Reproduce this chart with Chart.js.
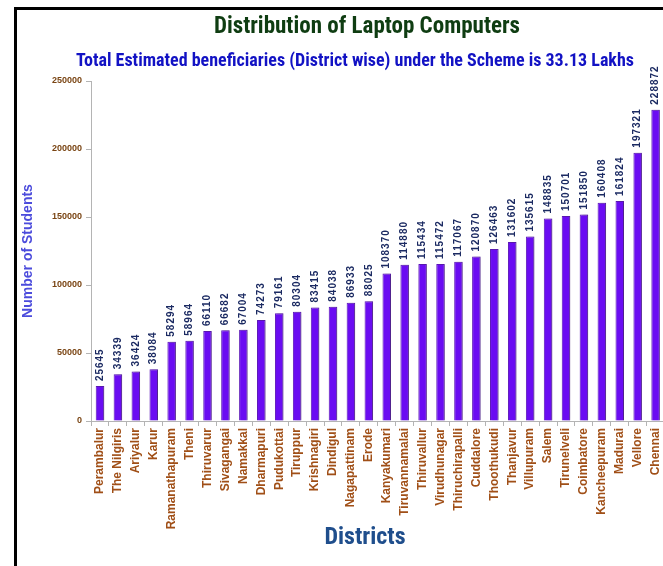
<!DOCTYPE html>
<html>
<head>
<meta charset="utf-8">
<script src="https://cdn.jsdelivr.net/npm/chart.js@4.4.1/dist/chart.umd.min.js"></script>
<style>
    html, body { margin: 0; padding: 0; background: #fff; overflow: hidden; }
    #wrap { position: relative; width: 663px; height: 566px; overflow: hidden; }
    #frame { position: absolute; left: 14px; top: 7px; width: 700px; height: 600px;
             border-left: 3px solid #000; border-top: 3px solid #000; }
    canvas { position: absolute; left: 0; top: 0; }
</style>
</head>
<body>
<div id="wrap">
    <div id="frame"></div>
    <canvas id="laptopChart" width="672" height="566"></canvas>
</div>
<script>
const districts = ['Perambalur', 'The Nilgiris', 'Ariyalur', 'Karur', 'Ramanathapuram', 'Theni',
    'Thiruvarur', 'Sivagangai', 'Namakkal', 'Dharmapuri', 'Pudukottai', 'Tiruppur', 'Krishnagiri',
    'Dindigul', 'Nagapattinam', 'Erode', 'Kanyakumari', 'Tiruvannamalai', 'Thiruvallur',
    'Virudhunagar', 'Thiruchirapalli', 'Cuddalore', 'Thoothukudi', 'Thanjavur', 'Villupuram',
    'Salem', 'Tirunelveli', 'Coimbatore', 'Kancheepuram', 'Madurai', 'Vellore', 'Chennai'];

const students = [25645, 34339, 36424, 38084, 58294, 58964, 66110, 66682, 67004, 74273, 79161,
    80304, 83415, 84038, 86933, 88025, 108370, 114880, 115434, 115472, 117067, 120870, 126463,
    131602, 135615, 148835, 150701, 151850, 160408, 161824, 197321, 228872];

const yTicks = [0, 50000, 100000, 150000, 200000, 250000];

const mainTitle = 'Distribution of Laptop Computers';
const subTitle = 'Total Estimated beneficiaries (District wise) under the Scheme is 33.13 Lakhs';
const xTitle = 'Districts';
const yTitle = 'Number of Students';

const narrow = "'Liberation Sans Narrow', 'Arial Narrow', 'Roboto Condensed', 'Liberation Sans', Arial, sans-serif";
const arial = "'Liberation Sans', Arial, sans-serif";

// text drawn around the plot: titles, value labels, x axis title
const textPlugin = {
    id: 'textPlugin',
    afterDatasetsDraw(chart) {
        const ctx = chart.ctx;
        const meta = chart.getDatasetMeta(0);

        ctx.save();
        ctx.fillStyle = '#1b2a62';
        ctx.font = 'bold 10px ' + arial;
        ctx.letterSpacing = '1px';
        ctx.textAlign = 'left';
        ctx.textBaseline = 'middle';
        meta.data.forEach((bar, i) => {
            ctx.save();
            ctx.translate(bar.x, bar.y - 5);
            ctx.rotate(-Math.PI / 2);
            ctx.fillText(String(students[i]), 0, 0);
            ctx.restore();
        });
        ctx.restore();
    },
    afterDraw(chart) {
        const ctx = chart.ctx;
        ctx.save();
        ctx.textAlign = 'center';
        ctx.textBaseline = 'middle';

        ctx.fillStyle = '#0f3d12';
        ctx.font = 'bold 23px ' + narrow;
        ctx.fillText(mainTitle, 367, 27);

        ctx.fillStyle = '#1212c4';
        ctx.font = 'bold 18px ' + narrow;
        ctx.fillText(subTitle, 355, 61);

        ctx.fillStyle = '#1f4e8c';
        ctx.font = 'bold 24px ' + narrow;
        ctx.fillText(xTitle, 365, 538);
        ctx.restore();
    }
};

// soft grey shadow to the right of the bars
const shadowPlugin = {
    id: 'shadowPlugin',
    beforeDatasetDraw(chart) {
        const ctx = chart.ctx;
        ctx.save();
        ctx.shadowColor = 'rgba(60, 60, 60, 0.35)';
        ctx.shadowOffsetX = 2;
        ctx.shadowOffsetY = 0;
        ctx.shadowBlur = 2;
    },
    afterDatasetDraw(chart) {
        chart.ctx.restore();
    }
};

const ctx = document.getElementById('laptopChart').getContext('2d');
const chart = new Chart(ctx, {
    type: 'bar',
    data: {
        labels: districts,
        datasets: [{
            label: yTitle,
            data: students,
            backgroundColor: '#6a0cf2',
            borderColor: '#5b16b8',
            borderWidth: 1,
            barPercentage: 0.5,
            categoryPercentage: 0.95
        }]
    },
    options: {
        responsive: false,
        animation: false,
        devicePixelRatio: 1,
        layout: {
            padding: { left: 18, right: 0, top: 81, bottom: 0 }
        },
        plugins: {
            legend: { display: false },
            tooltip: { enabled: false },
            title: { display: false }
        },
        scales: {
            x: {
                afterFit(scale) { scale.height = 145; },
                grid: {
                    display: true,
                    drawOnChartArea: false,
                    offset: true,
                    tickLength: 5,
                    color: '#b4b4b4'
                },
                border: { color: '#b4b4b4', width: 1 },
                ticks: {
                    autoSkip: false,
                    minRotation: 90,
                    maxRotation: 90,
                    padding: 2,
                    color: '#a04f17',
                    font: { family: arial, size: 12, weight: 'bold' }
                }
            },
            y: {
                min: 0,
                max: 250000,
                afterFit(scale) { scale.width = 73; },
                afterBuildTicks(scale) {
                    scale.ticks = yTicks.map(v => ({ value: v }));
                },
                grid: {
                    display: true,
                    drawOnChartArea: false,
                    tickLength: 5,
                    color: '#b4b4b4'
                },
                border: { color: '#b4b4b4', width: 1 },
                ticks: {
                    padding: 4,
                    color: '#7a4514',
                    font: { family: arial, size: 9, weight: 'bold' },
                    callback: v => String(v)
                },
                title: {
                    display: true,
                    text: yTitle,
                    color: '#4c4cdc',
                    padding: { top: 2, bottom: 0 },
                    font: { family: arial, size: 14, weight: 'bold' }
                }
            }
        }
    },
    plugins: [shadowPlugin, textPlugin]
});
</script>
</body>
</html>
